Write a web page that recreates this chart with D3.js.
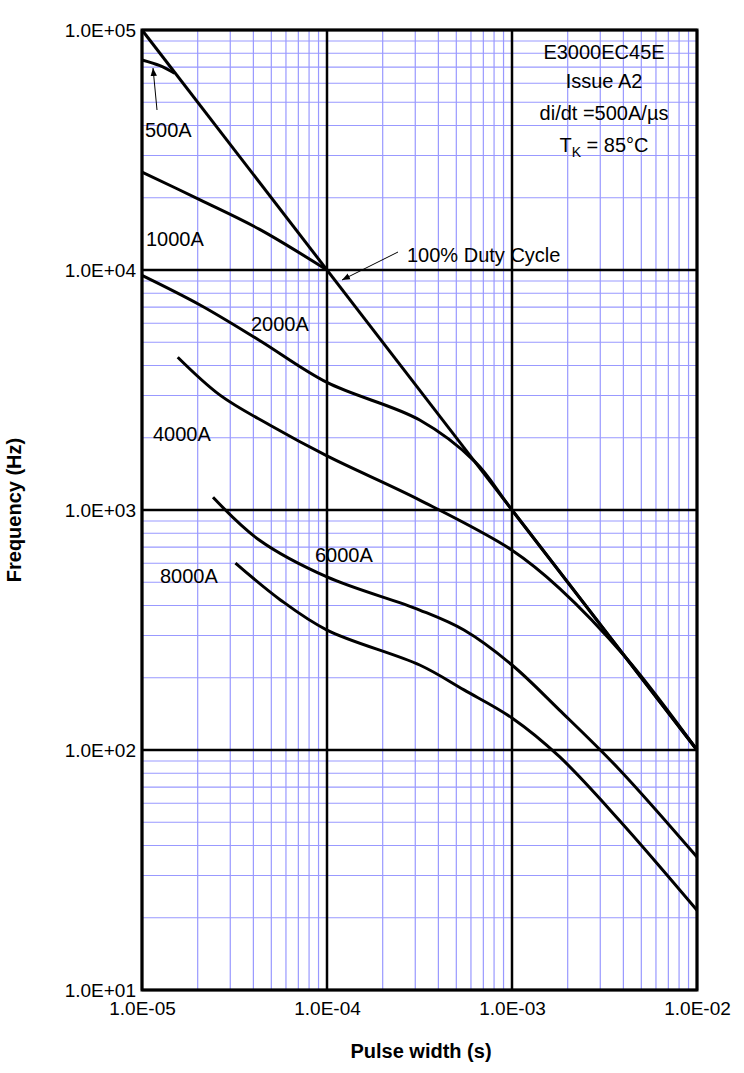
<!DOCTYPE html>
<html><head><meta charset="utf-8">
<script src="https://cdn.jsdelivr.net/npm/d3@7"></script>
<style>body{margin:0;background:#fff}text{font-family:Arial,"Liberation Sans",sans-serif}</style>
</head><body><svg id="c" width="744" height="1073"></svg>
<script>
const xTicks=[1e-5,1e-4,1e-3,1e-2];
const xTickLabels=["1.0E-05","1.0E-04","1.0E-03","1.0E-02"];
const yTicks=[1e1,1e2,1e3,1e4,1e5];
const yTickLabels=["1.0E+01","1.0E+02","1.0E+03","1.0E+04","1.0E+05"];
const duty=[[1e-5,1e5],[1e-2,1e2]];
const c500=[[1e-5,75000],[1.25e-5,71000],[1.5e-5,66000]];
const c1000=[[1e-5,25600],[2.06e-5,19600],[4.3e-5,14800],[1e-4,1e4]];
const c2000=[[1e-5,9500],[2.06e-5,7150],[4.3e-5,5100],[1e-4,3400],[3.17e-4,2370],[6.3e-4,1590],[1e-3,1000],[1e-2,100]];
const c4000=[[1.56e-5,4330],[2.64e-5,3010],[4.9e-5,2260],[1e-4,1680],[3.17e-4,1100],[1e-3,680],[1.8e-3,473],[4.1e-3,244],[1e-2,100]];
const c6000=[[2.42e-5,1130],[4.3e-5,750],[1e-4,526],[3.17e-4,383],[5.5e-4,316],[1e-3,226],[1.8e-3,147],[3.8e-3,83],[1e-2,35.8]];
const c8000=[[3.2e-5,601],[5.6e-5,422],[1e-4,316],[3.17e-4,226],[5.5e-4,178],[1e-3,136],[1.8e-3,94],[3.8e-3,51],[1e-2,21.5]];
const svg=d3.select("#c");
const L=142,R=697,T=30,B=990;
const x=d3.scaleLog().domain([1e-5,1e-2]).range([L,R]);
const y=d3.scaleLog().domain([1e1,1e5]).range([B,T]);
const minorX=[],minorY=[];
for(let e=-5;e<-2;e++)for(let m=2;m<10;m++)minorX.push(m*10**e);
for(let e=1;e<5;e++)for(let m=2;m<10;m++)minorY.push(m*10**e);
const g=svg.append("g");
g.selectAll(".mx").data(minorX).join("line").attr("x1",d=>x(d)).attr("x2",d=>x(d)).attr("y1",T).attr("y2",B).attr("stroke","#9999ff").attr("stroke-width",1.2);
g.selectAll(".my").data(minorY).join("line").attr("y1",d=>y(d)).attr("y2",d=>y(d)).attr("x1",L).attr("x2",R).attr("stroke","#9999ff").attr("stroke-width",1.2);
g.selectAll(".Mx").data(xTicks).join("line").attr("x1",d=>x(d)).attr("x2",d=>x(d)).attr("y1",T).attr("y2",B).attr("stroke","#000").attr("stroke-width",2.5);
g.selectAll(".My").data(yTicks).join("line").attr("y1",d=>y(d)).attr("y2",d=>y(d)).attr("x1",L).attr("x2",R).attr("stroke","#000").attr("stroke-width",2.5);
svg.append("rect").attr("x",L).attr("y",T).attr("width",R-L).attr("height",B-T).attr("fill","none").attr("stroke","#000").attr("stroke-width",3);
const line=d3.line().x(d=>x(d[0])).y(d=>y(d[1])).curve(d3.curveCatmullRom.alpha(0.5));
[duty,c500,c1000,c2000,c4000,c6000,c8000].forEach(s=>svg.append("path").attr("d",line(s)).attr("fill","none").attr("stroke","#000").attr("stroke-width",3));
const xa=svg.append("g").attr("transform",`translate(0,${B})`).call(d3.axisBottom(x).tickValues(xTicks).tickFormat((d,i)=>xTickLabels[i]).tickSize(0).tickPadding(12));
xa.select(".domain").remove();xa.selectAll("text").attr("font-size",19).attr("fill","#000");
const ya=svg.append("g").attr("transform",`translate(${L},0)`).call(d3.axisLeft(y).tickValues(yTicks).tickFormat((d,i)=>yTickLabels[i]).tickSize(0).tickPadding(6));
ya.select(".domain").remove();ya.selectAll("text").attr("font-size",19).attr("fill","#000").attr("dy","0.35em");
svg.append("text").attr("x",421).attr("y",1058).attr("text-anchor","middle").attr("font-size",20).attr("font-weight","bold").text("Pulse width (s)");
svg.append("text").attr("transform","translate(21,510) rotate(-90)").attr("text-anchor","middle").attr("font-size",20).attr("font-weight","bold").text("Frequency (Hz)");
const lab=(t,px,py)=>svg.append("text").attr("x",px).attr("y",py).attr("font-size",20).text(t);
lab("500A",145,137);lab("1000A",146,246);lab("2000A",251,331);lab("4000A",153,441);lab("6000A",315,562);lab("8000A",160,583);
lab("100% Duty Cycle",407,262);
const bx=[["E3000EC45E",59],["Issue A2",88],["di/dt =500A/µs",120]];
bx.forEach(b=>svg.append("text").attr("x",604).attr("y",b[1]).attr("text-anchor","middle").attr("font-size",20).text(b[0]));
const tk=svg.append("text").attr("x",604).attr("y",152).attr("text-anchor","middle").attr("font-size",20);
tk.append("tspan").text("T");tk.append("tspan").attr("font-size",14).attr("dy",5).text("K");tk.append("tspan").attr("dy",-5).text(" = 85°C");
const defs=svg.append("defs");
defs.append("marker").attr("id","ar").attr("viewBox","0 0 10 10").attr("refX",10).attr("refY",5).attr("markerWidth",8).attr("markerHeight",8).attr("orient","auto").append("path").attr("d","M0,1L10,5L0,9z").attr("fill","#000");
svg.append("line").attr("x1",157).attr("y1",110).attr("x2",153).attr("y2",68).attr("stroke","#000").attr("stroke-width",1).attr("marker-end","url(#ar)");
svg.append("line").attr("x1",398).attr("y1",252).attr("x2",342).attr("y2",280).attr("stroke","#000").attr("stroke-width",1).attr("marker-end","url(#ar)");
</script></body></html>
